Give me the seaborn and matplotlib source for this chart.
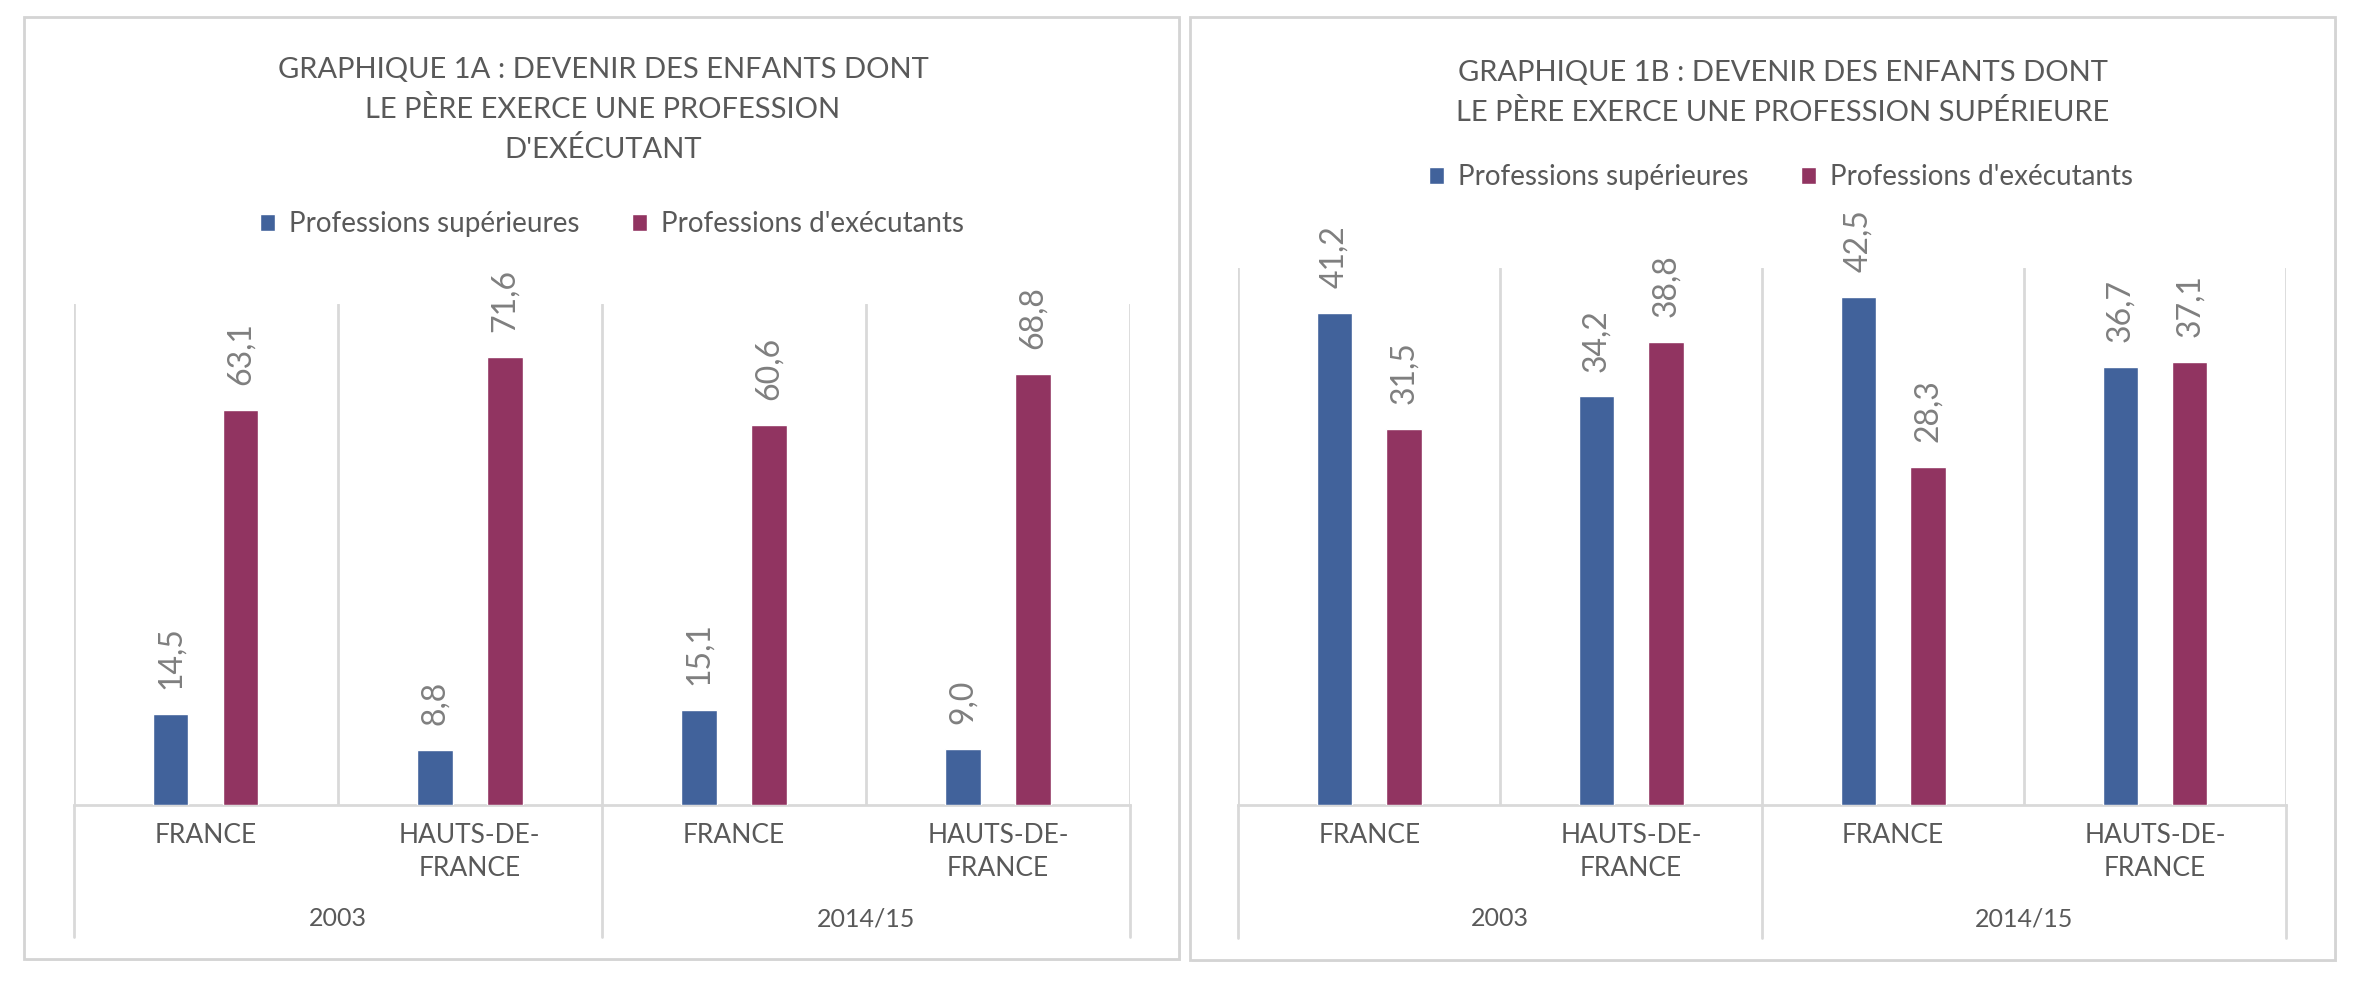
import numpy as np
import pandas as pd
import matplotlib
matplotlib.use("Agg")
import matplotlib.pyplot as plt
import seaborn as sns
from matplotlib.patches import Rectangle

# ---------------- data ----------------
annees = ["2003", "2014/15"]
territoires = ["FRANCE", "HAUTS-DE-\nFRANCE", "FRANCE", "HAUTS-DE-\nFRANCE"]
annee_par_barre = ["2003", "2003", "2014/15", "2014/15"]
series = ["Professions supérieures", "Professions d'exécutants"]

sup_1a = [14.5, 8.8, 15.1, 9.0]
exe_1a = [63.1, 71.6, 60.6, 68.8]
sup_1b = [41.2, 34.2, 42.5, 36.7]
exe_1b = [31.5, 38.8, 28.3, 37.1]

titre_1a = "GRAPHIQUE 1A : DEVENIR DES ENFANTS DONT\nLE PÈRE EXERCE UNE PROFESSION\nD'EXÉCUTANT"
titre_1b = "GRAPHIQUE 1B : DEVENIR DES ENFANTS DONT\nLE PÈRE EXERCE UNE PROFESSION SUPÉRIEURE"

couleurs = ["#41629b", "#913461"]
gris_texte = "#595959"
gris_label = "#7f7f7f"
gris_ligne = "#d9d9d9"

sns.set_style("white")
plt.rcParams["font.family"] = ["Lato", "DejaVu Sans"]

W, H = 2374, 986
fig = plt.figure(figsize=(W / 100, H / 100), dpi=100)


def fx(px):
    return px / W


def fy(py):
    return 1 - py / H


# panel frames
for (x0, y0, x1, y1) in [(24, 17, 1179, 959), (1190, 17, 2335, 960)]:
    shadow = Rectangle((fx(x0 + 2), fy(y1 + 2)), fx(x1 - x0), (y1 - y0) / H,
                       transform=fig.transFigure, facecolor="#e8e8e8",
                       edgecolor="none", zorder=-3)
    fig.add_artist(shadow)
    frame = Rectangle((fx(x0), fy(y1)), fx(x1 - x0), (y1 - y0) / H,
                      transform=fig.transFigure, facecolor="white",
                      edgecolor="#d4d4d4", lw=2.0, zorder=-2)
    fig.add_artist(frame)


def panel(rect, sup, exe, ymax, low_frac, year_frac, titre, title_xy, leg_xy):
    ax = fig.add_axes(rect)
    ax.set_facecolor("none")
    cles = [f"{a} {t}" for a, t in zip(annee_par_barre, territoires)]
    df = pd.DataFrame({
        "cle": cles * 2,
        "serie": [series[0]] * 4 + [series[1]] * 4,
        "valeur": list(sup) + list(exe),
    })
    sns.barplot(data=df, x="cle", y="valeur", hue="serie", order=cles,
                hue_order=series, palette=couleurs, width=0.53, gap=0.49,
                saturation=1, errorbar=None, ax=ax, legend=True, zorder=3)
    for cont in ax.containers:
        ax.bar_label(cont, labels=[f"{v:.1f}".replace(".", ",") for v in cont.datavalues],
                     rotation=90, padding=18, fontsize=23, color=gris_label)
    ax.set_xlim(-0.5, 3.5)
    ax.set_ylim(0, ymax)
    ax.set_yticks([])
    ax.set_xlabel("")
    ax.set_ylabel("")
    for s in ["left", "right", "top"]:
        ax.spines[s].set_visible(False)
    ax.spines["bottom"].set_color(gris_ligne)
    ax.spines["bottom"].set_linewidth(2)
    ax.set_xticks(range(4))
    ax.set_xticklabels(territoires, fontsize=19, color=gris_texte, linespacing=1.38)
    ax.tick_params(axis="x", length=0, pad=13)
    trans = ax.get_xaxis_transform()
    for x in [-0.5, 0.5, 1.5, 2.5, 3.5]:
        ax.axvline(x, color=gris_ligne, lw=2, zorder=1)
    for x in [-0.5, 1.5, 3.5]:
        ax.plot([x, x], [0, low_frac], color=gris_ligne, lw=2, transform=trans,
                clip_on=False, zorder=1)
    for i, a in enumerate(annees):
        ax.text(0.5 + 2 * i, year_frac, a, transform=trans, ha="center",
                va="center", fontsize=18, color=gris_texte)
    sns.move_legend(ax, "center", bbox_to_anchor=leg_xy, bbox_transform=fig.transFigure,
                    ncol=2, frameon=False, title=None, fontsize=20,
                    handlelength=0.55, handleheight=0.55, handletextpad=0.5,
                    columnspacing=1.9, labelcolor=gris_texte)
    fig.text(title_xy[0], title_xy[1], titre, ha="center", va="top",
             fontsize=21, color=gris_texte, linespacing=1.6)
    return ax


# left panel: baseline y=805 px, top 304 px, x 73.5..1130
panel([fx(73.5), fy(805), fx(1130 - 73.5), (805 - 304) / H],
      sup_1a, exe_1a, 80, -0.263, -0.2275, titre_1a,
      (fx(603), fy(57)), (fx(612), fy(224)))

# right panel: baseline 805, top 267.5, x 1238..2286
panel([fx(1238.3), fy(805), fx(2286 - 1238.3), (805 - 267.5) / H],
      sup_1b, exe_1b, 45, -0.247, -0.212, titre_1b,
      (fx(1783), fy(60)), (fx(1781), fy(177)))

fig.savefig("out.png", dpi=100, facecolor="white")
